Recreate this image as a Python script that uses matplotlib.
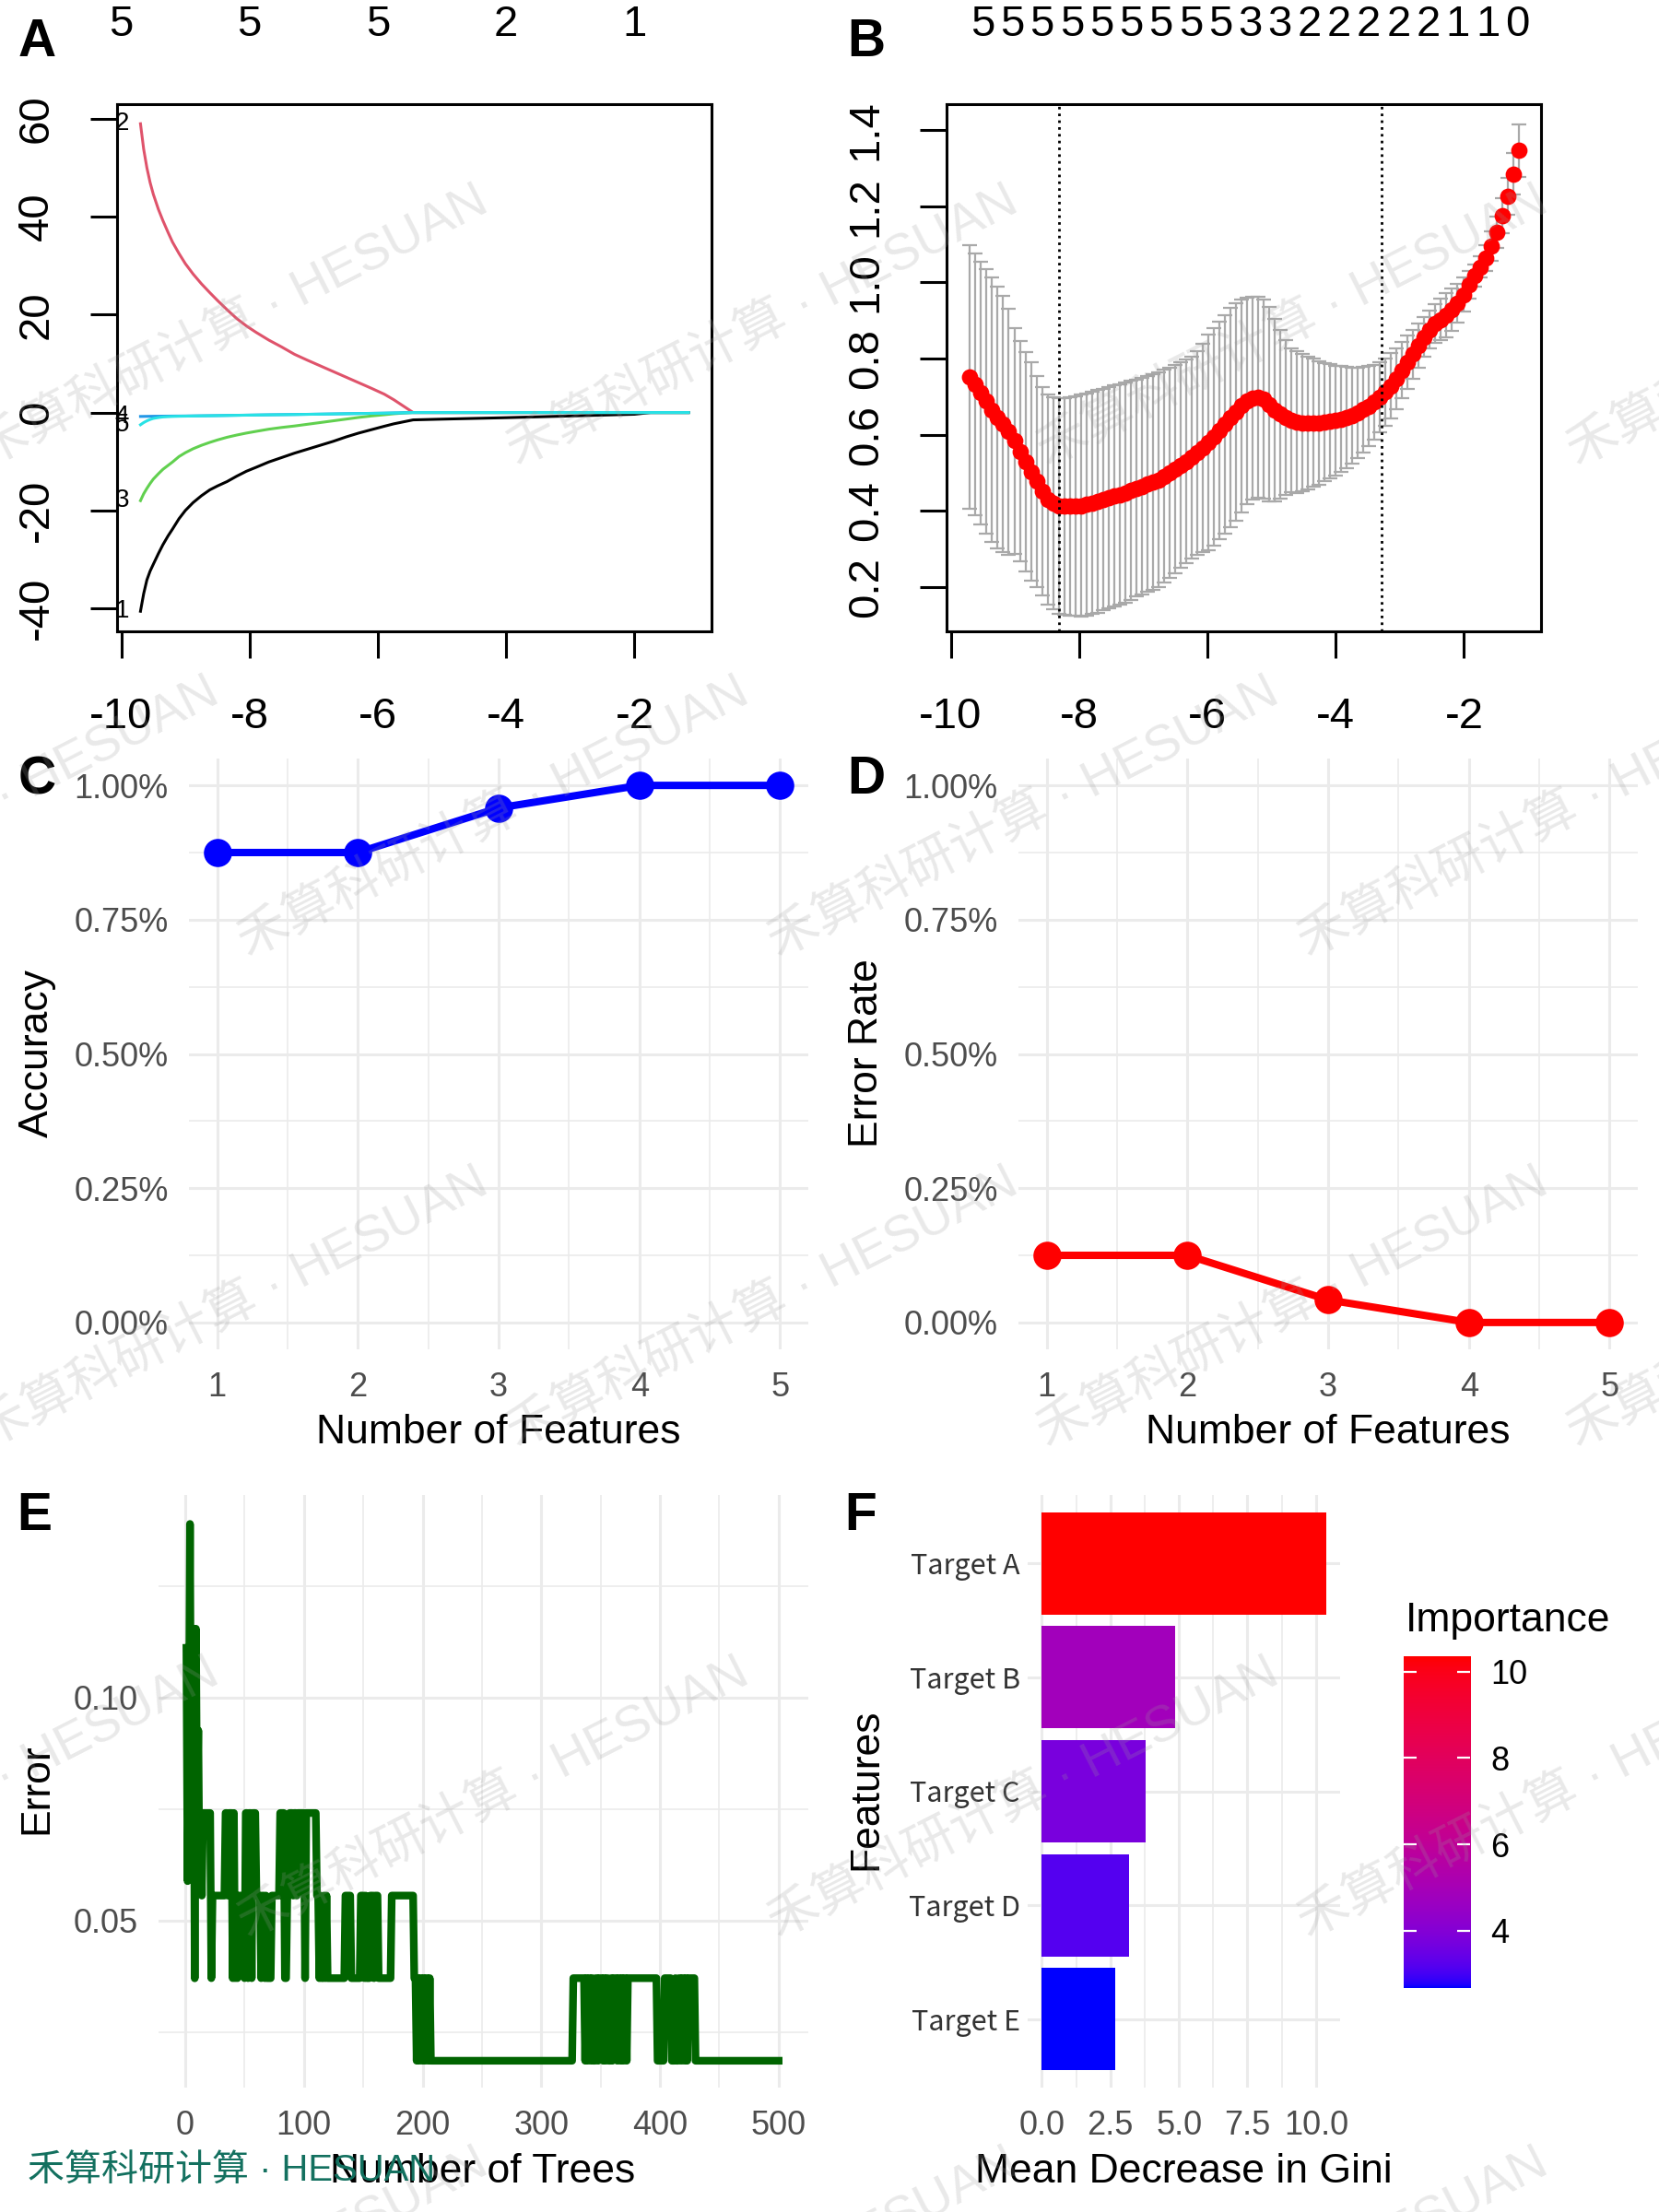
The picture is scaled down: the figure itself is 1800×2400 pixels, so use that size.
import numpy as np
import matplotlib
matplotlib.use("Agg")
import matplotlib.pyplot as plt
from matplotlib.colors import ListedColormap
from matplotlib.transforms import blended_transform_factory
from matplotlib.ticker import FuncFormatter

plt.rcParams['font.family'] = ['Liberation Sans', 'DejaVu Sans']
plt.rcParams['axes.unicode_minus'] = False

# ---------------- data ----------------
# A: lasso coefficient paths vs log(lambda)
lasso_x = [-9.70, -9.65, -9.60, -9.55, -9.50, -9.42, -9.35, -9.27, -9.20, -9.10,
           -9.00, -8.88, -8.75, -8.62, -8.50, -8.35, -8.20, -8.05, -7.90, -7.70,
           -7.50, -7.30, -7.10, -6.90, -6.70, -6.50, -6.30, -6.10, -5.90, -5.75,
           -5.60, -5.45, -5.00, -4.00, -3.00, -2.00, -1.75, -1.16]
coef1 = [-40.6, -37.0, -34.2, -32.4, -31.0, -28.8, -27.0, -25.2, -23.8, -21.7,
         -20.0, -18.4, -17.0, -15.8, -15.0, -14.1, -13.0, -12.0, -11.2, -10.1,
         -9.2, -8.3, -7.5, -6.7, -5.9, -5.0, -4.2, -3.5, -2.8, -2.3,
         -1.9, -1.5, -1.35, -1.05, -0.7, -0.35, 0.0, 0.0]
coef2 = [59.0, 53.8, 50.0, 47.0, 44.6, 41.5, 39.2, 36.8, 34.8, 32.5,
         30.4, 28.3, 26.3, 24.5, 22.9, 21.0, 19.2, 17.7, 16.4, 14.8,
         13.4, 11.9, 10.7, 9.55, 8.4, 7.25, 6.1, 4.95, 3.75, 2.6,
         1.3, 0.0, 0.0, 0.0, 0.0, 0.0, 0.0, 0.0]
coef3 = [-18.0, -16.6, -15.5, -14.5, -13.6, -12.5, -11.6, -10.8, -10.1, -9.0,
         -8.2, -7.4, -6.7, -6.1, -5.6, -5.05, -4.6, -4.2, -3.85, -3.4,
         -3.05, -2.75, -2.4, -2.05, -1.7, -1.35, -1.0, -0.7, -0.45, -0.25,
         -0.1, 0.0, 0.0, 0.0, 0.0, 0.0, 0.0, 0.0]
coef4 = [-0.80, -0.79, -0.78, -0.77, -0.76, -0.75, -0.74, -0.73, -0.72, -0.71,
         -0.70, -0.68, -0.66, -0.64, -0.62, -0.59, -0.56, -0.53, -0.50, -0.46,
         -0.43, -0.40, -0.36, -0.32, -0.28, -0.24, -0.20, -0.16, -0.12, -0.08,
         -0.04, 0.0, 0.0, 0.0, 0.0, 0.0, 0.0, 0.0]
coef5 = [-2.50, -2.05, -1.70, -1.42, -1.20, -1.02, -0.90, -0.84, -0.80, -0.76,
         -0.74, -0.71, -0.68, -0.66, -0.63, -0.60, -0.57, -0.54, -0.51, -0.47,
         -0.44, -0.41, -0.37, -0.33, -0.29, -0.25, -0.21, -0.17, -0.13, -0.09,
         -0.05, 0.0, 0.0, 0.0, 0.0, 0.0, 0.0, 0.0]
path_colors = ['black', '#DF536B', '#61D04F', '#2297E6', '#28E2E5']
top_a_pos = [-10, -8, -6, -4, -2]
top_a_lab = ['5', '5', '5', '2', '1']

# B: cross-validation curve
cv_mean = [0.753, 0.732, 0.710, 0.688, 0.665, 0.646, 0.628, 0.608, 0.584, 0.557,
           0.530, 0.503, 0.478, 0.452, 0.430, 0.420, 0.414, 0.412, 0.412, 0.413,
           0.414, 0.417, 0.421, 0.425, 0.430, 0.435, 0.439, 0.443, 0.448, 0.454,
           0.460, 0.465, 0.471, 0.476, 0.482, 0.491, 0.500, 0.510, 0.520, 0.530,
           0.541, 0.553, 0.566, 0.580, 0.595, 0.612, 0.628, 0.645, 0.660, 0.676,
           0.689, 0.696, 0.699, 0.694, 0.680, 0.665, 0.654, 0.645, 0.638, 0.634,
           0.632, 0.631, 0.631, 0.631, 0.633, 0.635, 0.638, 0.641, 0.645, 0.651,
           0.658, 0.666, 0.675, 0.686, 0.698, 0.712, 0.728, 0.748, 0.769, 0.790,
           0.812, 0.834, 0.856, 0.876, 0.892, 0.903, 0.914, 0.928, 0.946, 0.968,
           0.994, 1.018, 1.040, 1.064, 1.096, 1.132, 1.175, 1.226, 1.285, 1.346]
cv_upper = [1.099, 1.075, 1.055, 1.035, 1.012, 0.990, 0.965, 0.930, 0.880, 0.845,
            0.818, 0.790, 0.755, 0.725, 0.706, 0.699, 0.697, 0.697, 0.699, 0.702,
            0.705, 0.709, 0.713, 0.717, 0.721, 0.725, 0.729, 0.733, 0.737, 0.741,
            0.745, 0.750, 0.754, 0.758, 0.763, 0.770, 0.776, 0.783, 0.790, 0.797,
            0.806, 0.820, 0.840, 0.862, 0.880, 0.898, 0.915, 0.933, 0.946, 0.955,
            0.961, 0.963, 0.962, 0.955, 0.935, 0.905, 0.875, 0.848, 0.826, 0.820,
            0.812, 0.805, 0.799, 0.793, 0.788, 0.785, 0.782, 0.780, 0.778, 0.777,
            0.777, 0.778, 0.780, 0.784, 0.790, 0.800, 0.814, 0.828, 0.843, 0.860,
            0.876, 0.893, 0.908, 0.925, 0.943, 0.958, 0.971, 0.984, 0.997, 1.012,
            1.030, 1.048, 1.068, 1.098, 1.135, 1.174, 1.220, 1.275, 1.340, 1.414]
log_lambda_range = (-9.70, -1.15)
lambda_min, lambda_1se = -8.31, -3.29
top_b_lab = list("5555555553322222110")
top_b_range = (-9.50, -1.17)

# C / D: RFE accuracy and error rate
n_features = [1, 2, 3, 4, 5]
accuracy = [0.875, 0.875, 0.958, 1.0, 1.0]
error_rate = [0.125, 0.125, 0.042, 0.0, 0.0]

# E: random forest OOB error vs number of trees (run-length coded after tree 13)
early_err = [0.1111, 0.0588, 0.0857, 0.1389, 0.0741, 0.1111, 0.1154, 0.0370,
             0.1154, 0.0741, 0.0926, 0.0588, 0.0741]
err_levels = {1: 1 / 54, 2: 2 / 54, 3: 3 / 54, 4: 4 / 54}
run_level = [3, 4, 2, 3, 4, 3, 4, 2, 4, 2, 3, 2, 3, 2, 4, 2, 4, 2, 4, 3, 2, 3, 2, 3, 2,
             3, 4, 2, 3, 4, 3, 4, 3, 4, 2, 4, 3, 2, 3, 2, 3, 2, 3, 2, 3, 2, 3, 2, 3,
             2, 3, 2, 3, 2, 3, 2, 1, 2, 1, 2, 1, 2, 1, 2, 1, 2, 1, 2,
             1, 2, 1, 2, 1, 2, 1, 2, 1, 2, 1, 2, 1, 2, 1, 2, 1, 2, 1, 2, 1, 2, 1, 2, 1,
             2, 1, 2, 1, 2, 1, 2, 1, 2, 1, 2, 1, 2, 1]
run_len = [1, 7, 1, 11, 2, 1, 3, 1, 1, 1, 1, 1, 5, 1, 2, 1, 2, 1, 3, 4, 1, 2, 1, 1, 4,
           7, 4, 2, 2, 3, 1, 2, 1, 6, 1, 9, 2, 1, 1, 2, 1, 1, 1, 15, 5, 8, 3, 1, 1,
           3, 3, 1, 3, 11, 19, 2, 1, 1, 1, 2, 1, 1, 1, 2, 1, 1, 120, 10,
           1, 1, 1, 2, 1, 1, 2, 2, 1, 3, 1, 1, 1, 2, 2, 1, 1, 3, 1, 2, 1, 1, 1, 2, 1,
           25, 6, 6, 3, 1, 2, 2, 1, 2, 1, 1, 1, 6, 71]
oob_err = np.concatenate([early_err,
                          np.repeat([err_levels[k] for k in run_level], run_len)])
trees = np.arange(1, len(oob_err) + 1)

# F: variable importance
features = ['Target A', 'Target B', 'Target C', 'Target D', 'Target E']
gini = [10.36, 4.85, 3.78, 3.17, 2.67]

# ---------------- layout helpers ----------------
W, H = 1800, 2400
fig = plt.figure(figsize=(9, 12), dpi=200)


def box(l, t, r, b):
    return [l / W, 1 - b / H, (r - l) / W, (b - t) / H]


def fx(x):
    return x / W


def fy(y):
    return 1 - y / H


GRID = '#EBEBEB'
TXT = '#4D4D4D'


def r_base(ax):
    for s in ax.spines.values():
        s.set_linewidth(1.1)
    ax.tick_params(direction='out', length=10.5, width=1.1, labelsize=17)
    ax.tick_params(axis='x', pad=15)
    ax.tick_params(axis='y', pad=13, labelrotation=90)
    plt.setp(ax.get_yticklabels(), va='center')


def gg_minimal(ax):
    for s in ax.spines.values():
        s.set_visible(False)
    ax.tick_params(length=0, labelsize=13, labelcolor=TXT)
    ax.set_axisbelow(True)
    ax.grid(True, which='major', color=GRID, lw=1.1)
    ax.grid(True, which='minor', color=GRID, lw=0.6)
    ax.tick_params(which='minor', length=0)


# ---------------- A ----------------
axA = fig.add_axes(box(127, 113, 772, 685))
for k, (vals, col) in enumerate(zip([coef1, coef2, coef3, coef4, coef5], path_colors), start=1):
    axA.plot(lasso_x, vals, color=col, lw=1.1)
    axA.text(-9.985, vals[0], str(k), fontsize=10, ha='center', va='center')
axA.set_xlim(-10.065, -0.80)
axA.set_ylim(-44.7, 63.0)
axA.set_xticks([-10, -8, -6, -4, -2])
axA.set_yticks([-40, -20, 0, 20, 40, 60])
r_base(axA)
trA = blended_transform_factory(axA.transData, fig.transFigure)
for p, lab in zip(top_a_pos, top_a_lab):
    axA.text(p, fy(27), lab, transform=trA, fontsize=17, ha='center', va='center')

# ---------------- B ----------------
axB = fig.add_axes(box(1027, 113, 1672, 685))
ll = np.linspace(log_lambda_range[0], log_lambda_range[1], len(cv_mean))
cv_mean_a = np.array(cv_mean)
cv_sd = np.array(cv_upper) - cv_mean_a
axB.errorbar(ll, cv_mean_a, yerr=cv_sd, fmt='none', ecolor='#A9A9A9', elinewidth=0.8,
             capsize=3, capthick=0.8)
axB.plot(ll, cv_mean_a, 'o', color='red', ms=5.4, mec='red')
axB.axvline(lambda_min, color='black', ls=':', lw=1.0)
axB.axvline(lambda_1se, color='black', ls=':', lw=1.0)
axB.set_xlim(-10.065, -0.80)
axB.set_ylim(0.084, 1.468)
axB.set_xticks([-10, -8, -6, -4, -2])
axB.set_yticks([0.2, 0.4, 0.6, 0.8, 1.0, 1.2, 1.4])
axB.set_yticklabels(['0.2', '0.4', '0.6', '0.8', '1.0', '1.2', '1.4'])
r_base(axB)
trB = blended_transform_factory(axB.transData, fig.transFigure)
for p, lab in zip(np.linspace(top_b_range[0], top_b_range[1], len(top_b_lab)), top_b_lab):
    axB.text(p, fy(27), lab, transform=trB, fontsize=17, ha='center', va='center')

# ---------------- C / D ----------------
pct = FuncFormatter(lambda v, _: f"{v:.2f}%")
for rect, yvals, col, ylab, lx in [((205, 823, 877, 1464), accuracy, 'blue', 'Accuracy', 40),
                                    ((1105, 823, 1777, 1464), error_rate, 'red', 'Error Rate', 940)]:
    ax = fig.add_axes(box(*rect))
    gg_minimal(ax)
    ax.plot(n_features, yvals, color=col, lw=2.9, marker='o', ms=10, solid_capstyle='butt')
    ax.set_xlim(0.8, 5.2)
    ax.set_ylim(-0.05, 1.05)
    ax.set_xticks(n_features)
    ax.set_xticks([1.5, 2.5, 3.5, 4.5], minor=True)
    ax.set_yticks([0, 0.25, 0.5, 0.75, 1.0])
    ax.set_yticks([0.125, 0.375, 0.625, 0.875], minor=True)
    ax.yaxis.set_major_formatter(pct)
    ax.tick_params(axis='x', pad=8.5)
    ax.tick_params(axis='y', pad=8)
    ax.set_xlabel('Number of Features', fontsize=16, va='center')
    ax.xaxis.set_label_coords(fx((rect[0] + rect[2]) / 2), fy(1555), transform=fig.transFigure)
    ax.set_ylabel(ylab, fontsize=16, va='center')
    ax.yaxis.set_label_coords(fx(lx), fy(1143), transform=fig.transFigure)

# ---------------- E ----------------
axE = fig.add_axes(box(172, 1622, 877, 2265))
gg_minimal(axE)
axE.plot(trees, oob_err, color='#006400', lw=3.0, solid_joinstyle='round')
axE.set_xlim(-22.5, 525)
axE.set_ylim(0.0125, 0.1454)
axE.set_xticks([0, 100, 200, 300, 400, 500])
axE.set_xticks([50, 150, 250, 350, 450], minor=True)
axE.set_yticks([0.05, 0.10])
axE.set_yticks([0.025, 0.075, 0.125], minor=True)
axE.set_yticklabels(['0.05', '0.10'])
axE.tick_params(axis='x', pad=8.5)
axE.tick_params(axis='y', pad=8)
axE.set_xlabel('Number of Trees', fontsize=16, va='center')
axE.xaxis.set_label_coords(fx(524), fy(2357), transform=fig.transFigure)
axE.set_ylabel('Error', fontsize=16, va='center')
axE.yaxis.set_label_coords(fx(40), fy(1941), transform=fig.transFigure)

# ---------------- F ----------------
# ggplot-like gradient (blue -> red interpolated in CIELAB)
M = np.array([[0.4124564, 0.3575761, 0.1804375],
              [0.2126729, 0.7151522, 0.0721750],
              [0.0193339, 0.1191920, 0.9503041]])
WHITE = np.array([0.95047, 1.0, 1.08883])


def to_lab(rgb):
    rgb = np.asarray(rgb, float)
    lin = np.where(rgb <= 0.04045, rgb / 12.92, ((rgb + 0.055) / 1.055) ** 2.4)
    xyz = M @ lin / WHITE
    f = np.where(xyz > 0.008856, np.cbrt(xyz), 7.787 * xyz + 16 / 116)
    return np.array([116 * f[1] - 16, 500 * (f[0] - f[1]), 200 * (f[1] - f[2])])


def from_lab(lab):
    L, a, b = lab
    f_y = (L + 16) / 116
    f = np.stack([f_y + a / 500, f_y, f_y - b / 200])
    xyz = np.where(f > 0.206893, f ** 3, (f - 16 / 116) / 7.787) * WHITE[:, None]
    lin = np.linalg.inv(M) @ xyz
    lin = np.clip(lin, 0, None)
    rgb = np.where(lin <= 0.0031308, 12.92 * lin, 1.055 * lin ** (1 / 2.4) - 0.055)
    return np.clip(rgb, 0, 1).T


tt = np.linspace(0, 1, 256)
lab_lo, lab_hi = to_lab([0, 0, 1]), to_lab([1, 0, 0])
cmap = ListedColormap(from_lab(lab_lo[:, None] * (1 - tt) + lab_hi[:, None] * tt))
vmin, vmax = min(gini), max(gini)

axF = fig.add_axes(box(1115, 1622, 1454, 2265))
gg_minimal(axF)
ypos = np.arange(len(features))
axF.barh(ypos, gini, height=0.9, color=cmap((np.array(gini) - vmin) / (vmax - vmin)))
axF.set_xlim(-0.517, 10.88)
axF.set_ylim(len(features) - 0.4, -0.6)
axF.set_xticks([0, 2.5, 5.0, 7.5, 10.0])
axF.set_xticklabels(['0.0', '2.5', '5.0', '7.5', '10.0'])
axF.set_xticks([1.25, 3.75, 6.25, 8.75], minor=True)
axF.set_yticks(ypos)
axF.set_yticklabels(features, fontsize=11, color='#333333',
                    family=['Noto Sans CJK SC', 'DejaVu Sans'])
axF.grid(False, axis='y', which='minor')
axF.tick_params(axis='x', pad=8.5)
axF.tick_params(axis='y', pad=3)
axF.set_xlabel('Mean Decrease in Gini', fontsize=16, va='center')
axF.xaxis.set_label_coords(fx(1284), fy(2357), transform=fig.transFigure)
axF.set_ylabel('Features', fontsize=16, va='center')
axF.yaxis.set_label_coords(fx(940), fy(1941), transform=fig.transFigure)

# colour bar legend
cax = fig.add_axes(box(1523, 1797, 1595, 2157))
grad = np.linspace(vmin, vmax, 256)[:, None]
cax.imshow(grad, cmap=cmap, aspect='auto', origin='lower', extent=[0, 1, vmin, vmax])
cax.set_xlim(0, 1)
cax.set_ylim(vmin, vmax)
cb_ticks = [4, 6, 8, 10]
cax.hlines(cb_ticks, 0, 0.19, color='white', lw=0.8)
cax.hlines(cb_ticks, 0.81, 1, color='white', lw=0.8)
cax.set_xticks([])
cax.yaxis.tick_right()
cax.set_yticks(cb_ticks)
cax.tick_params(axis='y', length=0, pad=8, labelsize=13)
for s in cax.spines.values():
    s.set_visible(False)
fig.text(fx(1525), fy(1770), 'Importance', fontsize=16, ha='left', va='baseline')

# ---------------- panel tags ----------------
for tag, x, y in [('A', 40, 46), ('B', 940, 46), ('C', 40, 846),
                  ('D', 940, 846), ('E', 37, 1645), ('F', 934, 1645)]:
    fig.text(fx(x), fy(y), tag, fontsize=20.5, fontweight='bold', ha='center', va='center')

# ---------------- watermarks ----------------
wm = '禾算科研计算 · HESUAN'
wm_font = ['Liberation Sans', 'Noto Sans CJK SC', 'DejaVu Sans']
for r, yrow in enumerate([355, 888, 1420, 1952, 2484]):
    x0 = 253 if r % 2 == 0 else 536
    for k in range(-1, 4):
        fig.text(fx(x0 + 575 * k), fy(yrow), wm, fontsize=20, family=wm_font, color='#9a9a9a',
                 alpha=0.22, rotation=27, rotation_mode='anchor', ha='center', va='center',
                 zorder=20)
fig.text(fx(30), fy(2355), wm, fontsize=14.4, family=wm_font, color='#13705F',
         ha='left', va='center', zorder=21)

fig.savefig('out.png', dpi=200)
